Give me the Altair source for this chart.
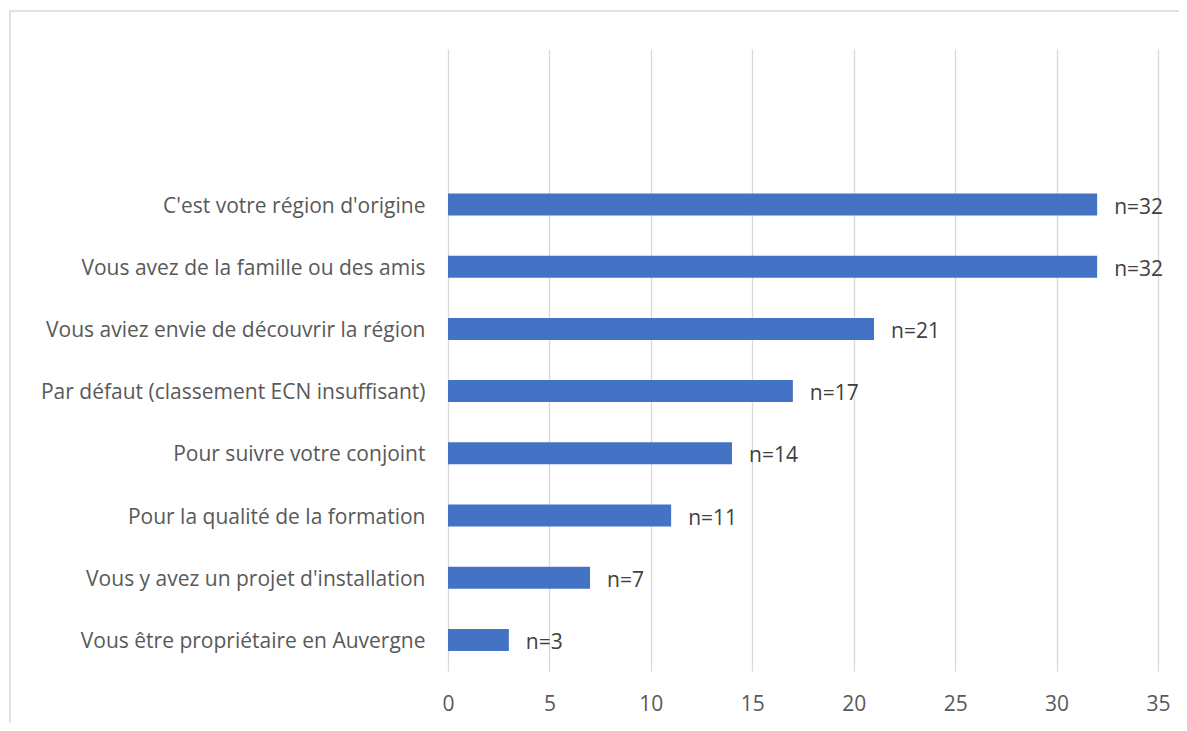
import altair as alt
import pandas as pd

categories = [
    "C'est votre région d'origine",
    "Vous avez de la famille ou des amis",
    "Vous aviez envie de découvrir la région",
    "Par défaut (classement ECN insuffisant)",
    "Pour suivre votre conjoint",
    "Pour la qualité de la formation",
    "Vous y avez un projet d'installation",
    "Vous être propriétaire en Auvergne",
]
values = [32, 32, 21, 17, 14, 11, 7, 3]
x_ticks = [0, 5, 10, 15, 20, 25, 30, 35]
blank_slots = [" ", "  "]

df = pd.DataFrame({"cat": categories, "n": values})
df["label"] = ["n=" + str(v) for v in values]

domain = blank_slots + categories
FONT = "Open Sans"
FS = 21

y_enc = alt.Y(
    "cat:N",
    scale=alt.Scale(domain=domain, paddingInner=0.646, paddingOuter=0.323),
    axis=alt.Axis(title=None, domain=False, ticks=False, labelPadding=23,
                  labelOffset=2, labelFont=FONT, labelFontSize=FS,
                  labelColor="#595959", labelLimit=500, grid=False),
)
x_enc = alt.X(
    "n:Q",
    scale=alt.Scale(domain=[0, 35], nice=False),
    axis=alt.Axis(title=None, domain=False, ticks=False, values=x_ticks,
                  labelPadding=22, labelFont=FONT, labelFontSize=FS,
                  labelColor="#595959", labelFlush=False, grid=True,
                  gridColor="#d9d9d9", gridWidth=1.3),
)

bars = alt.Chart(df).mark_bar(color="#4472C4").encode(x=x_enc, y=y_enc)
labels = alt.Chart(df).mark_text(
    align="left", baseline="middle", dx=17, dy=3, font=FONT, fontSize=FS,
    color="#404040"
).encode(x=x_enc, y=y_enc, text="label:N")

border = alt.Chart(pd.DataFrame({"a": [0]})).mark_rect(
    fill=None, stroke="#d9d9d9", strokeWidth=1.5, clip=False
).encode(x=alt.value(-438), x2=alt.value(745), y=alt.value(-38), y2=alt.value(700))

chart = alt.layer(border, bars, labels).properties(
    width=710, height=622, background="white",
    autosize=alt.AutoSizeParams(type="none"),
    padding={"left": 440, "top": 41, "right": 21, "bottom": 52},
).configure_view(stroke=None)

chart.save("out.html", embed_options={"renderer": "svg", "actions": False})
